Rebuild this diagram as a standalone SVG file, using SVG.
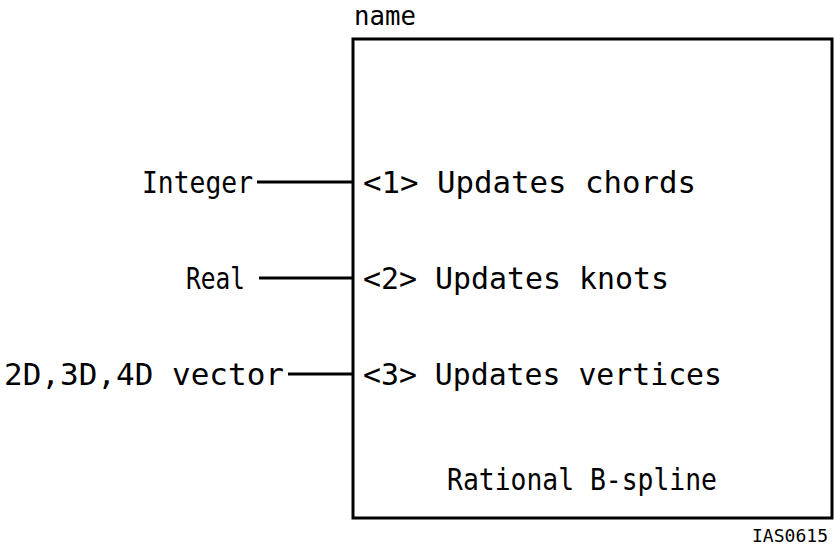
<svg xmlns="http://www.w3.org/2000/svg" width="834" height="549" viewBox="0 0 834 549">
<style>
text{font-family:"DejaVu Sans Mono","Liberation Mono",monospace;font-size:30px;fill:#000}
.c{stroke:#000;stroke-width:3;fill:none}
</style>
<rect width="834" height="549" fill="#fff"/>
<g id="block">
<rect class="c" x="353" y="39" width="479" height="479"/>
<text x="354" y="25" style="font-size:27px" textLength="62" lengthAdjust="spacingAndGlyphs">name</text>
<text x="363" y="193" textLength="333" lengthAdjust="spacingAndGlyphs">&lt;1&gt; Updates chords</text>
<text x="363" y="289" textLength="306" lengthAdjust="spacingAndGlyphs">&lt;2&gt; Updates knots</text>
<text x="363" y="385" textLength="359" lengthAdjust="spacingAndGlyphs">&lt;3&gt; Updates vertices</text>
<text x="447" y="490" textLength="270" lengthAdjust="spacingAndGlyphs">Rational B-spline</text>
</g>
<g id="in1"><text x="142" y="193" textLength="111" lengthAdjust="spacingAndGlyphs">Integer</text></g>
<g id="in2"><text x="186" y="289" textLength="59" lengthAdjust="spacingAndGlyphs">Real</text></g>
<g id="in3"><text x="4" y="385" textLength="280" lengthAdjust="spacingAndGlyphs">2D,3D,4D vector</text></g>
<g id="label"><text x="752" y="542" style="font-size:18px" textLength="76" lengthAdjust="spacingAndGlyphs">IAS0615</text></g>
<g id="connectors">
<line class="c" x1="257" y1="182" x2="353" y2="182"/>
<line class="c" x1="259" y1="278" x2="353" y2="278"/>
<line class="c" x1="288" y1="374" x2="353" y2="374"/>
</g>
</svg>
